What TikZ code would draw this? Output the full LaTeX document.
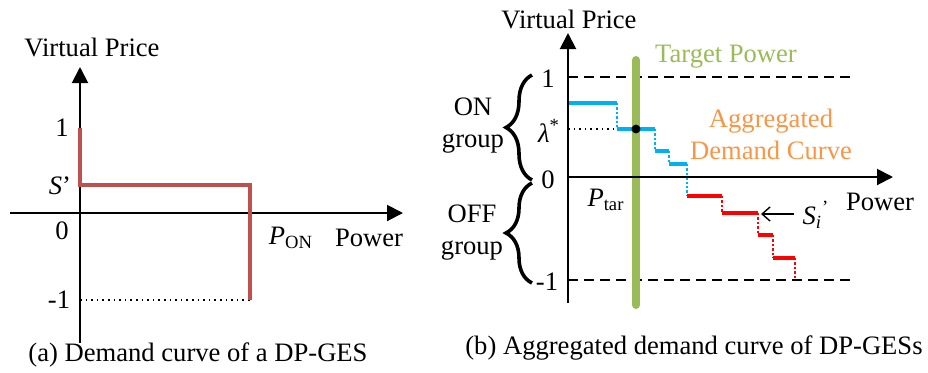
\documentclass[tikz,border=0pt]{standalone}
\usepackage{fontspec}
\setmainfont{Liberation Serif}
\usetikzlibrary{arrows.meta,decorations.pathreplacing}
\definecolor{singlered}{HTML}{C0504D}
\definecolor{oncyan}{HTML}{00B0F0}
\definecolor{offred}{HTML}{FF0000}
\definecolor{targetgreen}{HTML}{9BBB59}
\definecolor{aggorange}{HTML}{F79646}
\begin{document}
\begin{tikzpicture}[x=0.5pt,y=-0.5pt,font=\fontsize{13.3}{16}\selectfont,
  every node/.style={inner sep=0pt},
  axis/.style={line width=1pt,-{Triangle[length=8pt,width=8pt]}},
  solidstep/.style={line width=2pt},
  dotstep/.style={line width=1.2pt,dash pattern=on 1.2pt off 1pt},
  limitline/.style={line width=0.7pt,dash pattern=on 5pt off 3pt},
  grpbrace/.style={line width=1.8pt,decorate,decoration={brace,amplitude=13pt}}]
\useasboundingbox (0,0) rectangle (928,372);

% (a) single DP-GES
\coordinate (ybot1) at (80,343);
\coordinate (ytop1) at (80,67);
\coordinate (xleft1) at (10,213);
\coordinate (xright1) at (403,213);
\draw[axis] (ybot1) -- (ytop1);
\draw[axis] (xleft1) -- (xright1);
\draw[dotted,line width=0.8pt] (80,300) -- (250,300);
\draw[singlered,line width=2pt,line join=miter] (80,128) -- (80,185) -- (250,185) -- (250,300);
\node (vp1) at (92,47) {Virtual Price};
\node (one1) at (62,128) {1};
\node (s1) at (60,186) {\textit{S}’};
\node (zero1) at (62,231) {0};
\node (mone1) at (59,300) {-1};
\node (pon) at (291,238) {\textit{P}\textsubscript{ON}};
\node (pow1) at (369,238) {Power};
\node (capa) at (198,355) {(a) Demand curve of a DP-GES};

% (b) aggregated curve
\coordinate (ybot2) at (568,303);
\coordinate (ytop2) at (568,33);
\coordinate (xleft2) at (568,177);
\coordinate (xright2) at (893,177);
\draw[limitline] (568,77) -- (852,77);
\draw[limitline] (568,280) -- (852,280);
\draw[dotted,line width=0.8pt] (568,129) -- (617,129);
% ON group steps
\draw[oncyan,dotstep] (568,77) -- (568,103);
\draw[oncyan,solidstep] (568,103) -- (617,103);
\draw[oncyan,dotstep] (617,103) -- (617,129);
\draw[oncyan,solidstep] (617,129) -- (655,129);
\draw[oncyan,dotstep] (655,129) -- (655,151);
\draw[oncyan,solidstep] (655,151) -- (669,151);
\draw[oncyan,dotstep] (669,151) -- (669,164);
\draw[oncyan,solidstep] (669,164) -- (687,164);
\draw[oncyan,dotstep] (687,164) -- (687,196);
% OFF group steps
\draw[offred,solidstep] (687,196) -- (722,196);
\draw[offred,dotstep] (722,196) -- (722,213);
\draw[offred,solidstep] (722,213) -- (758,213);
\draw[offred,dotstep] (758,213) -- (758,235);
\draw[offred,solidstep] (758,235) -- (773,235);
\draw[offred,dotstep] (773,235) -- (773,258);
\draw[offred,solidstep] (773,258) -- (795,258);
\draw[offred,dotstep] (795,258) -- (795,280);
% target power
\coordinate (tgtop) at (636,60);
\coordinate (tgbot) at (636,305);
\draw[targetgreen,line width=4pt,line cap=round] (tgtop) -- (tgbot);
\fill (636,129) circle (2.2pt);
\draw[axis] (ybot2) -- (ytop2);
\draw[axis] (xleft2) -- (xright2);
\draw[grpbrace] (532,180) -- (532,75);
\draw[grpbrace] (532,283) -- (532,183);
\node (vp2) at (569,19) {Virtual Price};
\node[text=targetgreen] (tgt) at (726,57) {Target Power};
\node[text=aggorange,align=center] (agg) at (771,134) {Aggregated\\Demand Curve};
\node[align=center] (ongrp) at (473,126) {ON\\group};
\node[align=center] (offgrp) at (472,233) {OFF\\group};
\node (one2) at (548,79) {1};
\node (lam) at (549,131) {\textit{λ}\textsuperscript{*}};
\node (zero2) at (548,180) {0};
\node (mone2) at (547,282) {-1};
\node (ptar) at (606,200) {\textit{P}\textsubscript{tar}};
\node (pow2) at (880,202) {Power};
\node (si) at (816,215) {\textit{S}\textsubscript{\textit{i}}\textsuperscript{’}};
\coordinate (sitail) at (794,214);
\coordinate (sistep) at (761,214);
\draw[line width=0.7pt,-{Straight Barb[length=4pt,width=7pt]}] (sitail) -- (sistep);
\node (capb) at (694,348) {(b) Aggregated demand curve of DP-GESs};
\end{tikzpicture}
\end{document}
